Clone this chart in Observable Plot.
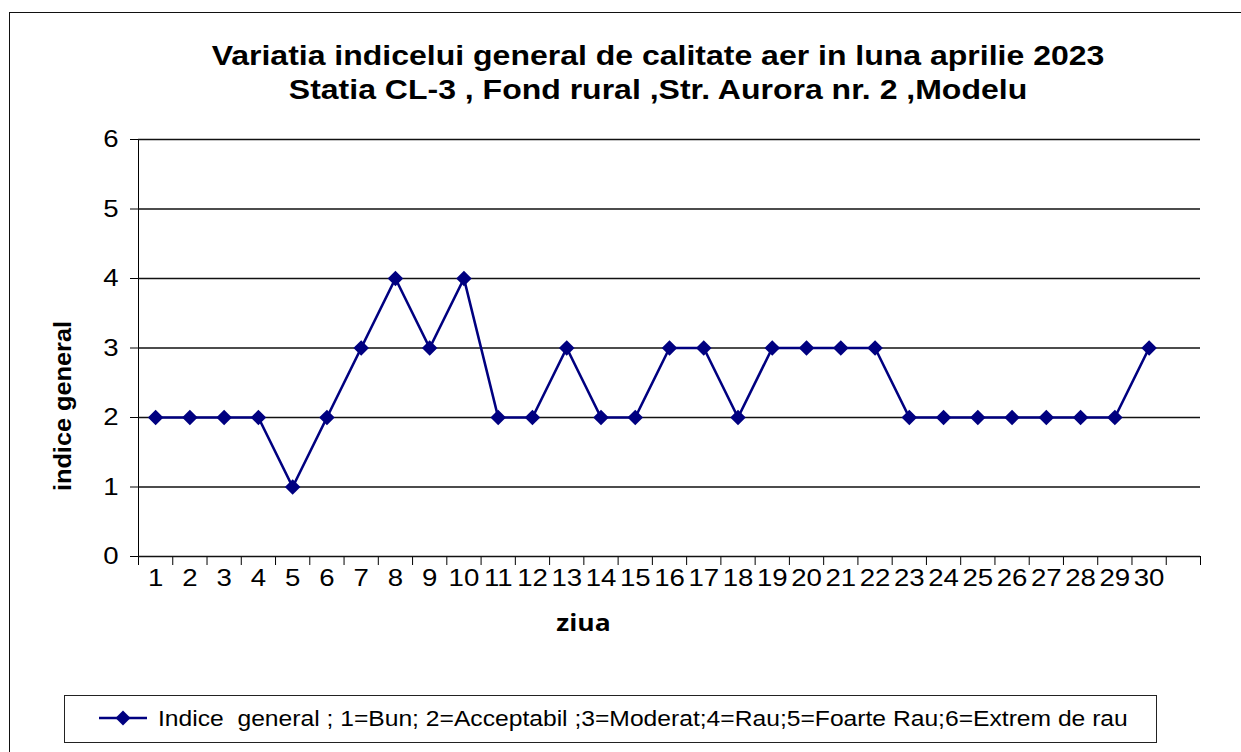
<!DOCTYPE html>
<html>
<head>
<meta charset="utf-8">
<script src="https://cdn.jsdelivr.net/npm/d3@7"></script>
<script src="https://cdn.jsdelivr.net/npm/@observablehq/plot@0.6"></script>
<style>
  html, body { margin: 0; padding: 0; background: #fff; }
  #wrap { position: relative; width: 1241px; height: 752px; overflow: hidden; background: #fff; font-family: Arial, "Liberation Sans", sans-serif; }
  #outer { position: absolute; left: 9px; top: 12px; width: 1400px; height: 900px; border: 1.5px solid #111; }
  #title { position: absolute; left: 0; top: 39px; width: 1316px; text-align: center; font-weight: bold; font-size: 27px; line-height: 34px; color: #000; transform: scaleX(1.185); transform-origin: 658px 0; }
  #chart { position: absolute; left: 0; top: 118px; }
  #ytitle { position: absolute; left: 63px; top: 406px; width: 0; height: 0; }
  #ytitle span { position: absolute; left: 0; top: 0; white-space: pre; font-weight: bold; font-size: 23px; color: #000; transform: translate(-50%, -50%) rotate(-90deg) scaleX(1.1); }
  #legend { position: absolute; left: 64px; top: 695px; width: 1091px; height: 46px; border: 1px solid #222; background: #fff; }
  #legend svg { position: absolute; left: 32px; top: 12px; }
  #legend span { position: absolute; left: 93px; top: 10px; font-size: 22px; white-space: pre; color: #000; transform: scaleX(1.12); transform-origin: 0 0; }
</style>
</head>
<body>
<div id="wrap">
  <div id="outer"></div>
  <div id="title">Variatia indicelui general de calitate aer in luna aprilie 2023<br>Statia CL-3 , Fond rural ,Str. Aurora nr. 2 ,Modelu</div>
  <div id="chart"></div>
  <div id="ytitle"><span></span></div>
  <div id="legend"></div>
</div>
<script>
// ---- data ----
const days = [1,2,3,4,5,6,7,8,9,10,11,12,13,14,15,16,17,18,19,20,21,22,23,24,25,26,27,28,29,30];
const indiceGeneral = [2,2,2,2,1,2,3,4,3,4,2,2,3,2,2,3,3,2,3,3,3,3,2,2,2,2,2,2,2,3];
const dayLabels = days.map(String);
const yTicks = [0,1,2,3,4,5,6];
const slotCount = 31; // categories on the axis (last one empty)
const seriesName = "Indice  general ; 1=Bun; 2=Acceptabil ;3=Moderat;4=Rau;5=Foarte Rau;6=Extrem de rau";
const xTitle = "ziua";
const yTitle = "indice general";

const data = days.map((d, i) => ({day: d, value: indiceGeneral[i], label: dayLabels[i]}));
const boundaries = d3.range(0, slotCount + 1).map(i => i + 0.5);
const navy = "#000080";

const chart = Plot.plot({
  width: 1241,
  height: 540,
  marginTop: 21,
  marginLeft: 138,
  marginRight: 41,
  marginBottom: 102,
  style: {fontFamily: "Arial, 'Liberation Sans', sans-serif", fontSize: "24px", color: "#000", background: "transparent", overflow: "visible"},
  x: {domain: [0.5, slotCount + 0.5], ticks: boundaries, tickSize: 9, tickFormat: () => "", label: null},
  y: {domain: [0, 6], ticks: yTicks, tickSize: 8, tickPadding: 12, tickFormat: d3.format("d"), label: null, line: true},
  marks: [
    Plot.ruleY(yTicks, {stroke: "#111", strokeWidth: 1.3}),
    Plot.line(data, {x: "day", y: "value", stroke: navy, strokeWidth: 2.6}),
    Plot.dot(data, {x: "day", y: "value", symbol: "diamond2", r: 7, fill: navy, stroke: "none"}),
    Plot.text(data, {x: "day", text: "label", frameAnchor: "bottom", dy: 29, fontSize: 24, fill: "#000"}),
    Plot.text([xTitle], {frameAnchor: "bottom", dx: -86, dy: 74, fontFamily: "'Open Sans', 'Noto Sans', sans-serif", fontWeight: "bold", fontSize: 23, fill: "#000"})
  ]
});
document.getElementById("chart").appendChild(chart);

// horizontal stretch of the chart's texts, like the reference
chart.querySelectorAll("text").forEach(t => {
  const w = t.getComputedTextLength();
  if (w > 0) {
    t.setAttribute("textLength", (w * 1.15).toFixed(2));
    t.setAttribute("lengthAdjust", "spacingAndGlyphs");
  }
});

document.querySelector("#ytitle span").textContent = yTitle;

// legend
const leg = document.getElementById("legend");
leg.innerHTML = `<svg width="52" height="20"><line x1="2" x2="50" y1="10" y2="10" stroke="${navy}" stroke-width="2.6"/><path d="M26,2.5 L33.5,10 L26,17.5 L18.5,10 Z" fill="${navy}"/></svg><span></span>`;
leg.querySelector("span").textContent = seriesName;
</script>
</body>
</html>
